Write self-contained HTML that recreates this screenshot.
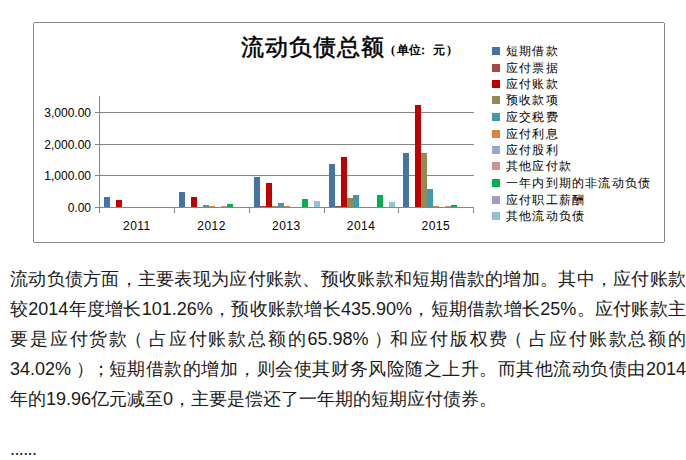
<!DOCTYPE html>
<html><head><meta charset="utf-8">
<style>
html,body{margin:0;padding:0;background:#fff;}
body{width:686px;height:460px;overflow:hidden;position:relative;font-family:"Liberation Sans",sans-serif;color:#000;}
svg{position:absolute;left:0;top:0;}
.t{position:absolute;left:241px;top:32px;font-family:"Liberation Serif",serif;font-size:23px;letter-spacing:1px;font-weight:400;-webkit-text-stroke:0.5px #000;line-height:32px;white-space:nowrap;}
.u{position:absolute;left:391px;top:42px;font-family:"Liberation Serif",serif;font-size:12px;font-weight:bold;line-height:16px;white-space:nowrap;}
.u span{display:inline-block;}
.yl{position:absolute;right:595px;font-size:12px;line-height:16px;white-space:nowrap;}
.xl{position:absolute;width:74.75px;top:218px;font-size:12px;letter-spacing:0.5px;line-height:16px;text-align:center;}
.lg{position:absolute;left:506px;font-size:12px;line-height:16px;letter-spacing:1.2px;white-space:nowrap;}
.p{position:absolute;left:10px;width:676px;font-size:18px;line-height:30px;color:#1a1a1a;}
.ln{display:block;height:30px;text-align:justify;text-align-last:justify;white-space:nowrap;}
.ln.last{text-align-last:left;}
.lp{position:relative;left:-4px;}
.rp{position:relative;left:4px;}
.sc{position:relative;left:2px;}
</style></head><body>
<svg width="686" height="250" viewBox="0 0 686 250">
<rect x="34" y="22" width="630" height="1" fill="#868686"/><rect x="34" y="242" width="630" height="1" fill="#868686"/><rect x="33" y="23" width="1" height="219" fill="#868686"/><rect x="664" y="23" width="1" height="219" fill="#868686"/>
<rect x="99" y="112" width="375" height="1" fill="#868686"/>
<rect x="99" y="144" width="375" height="1" fill="#868686"/>
<rect x="99" y="175" width="375" height="1" fill="#868686"/>
<rect x="104" y="197" width="6" height="10" fill="#4572A7"/>
<rect x="116" y="200" width="6" height="7" fill="#C00000"/>
<rect x="179" y="192" width="6" height="15" fill="#4572A7"/>
<rect x="191" y="197" width="6" height="10" fill="#C00000"/>
<rect x="203" y="205" width="6" height="2" fill="#4198AF"/>
<rect x="209" y="206" width="6" height="1" fill="#DB843D"/>
<rect x="221" y="206" width="6" height="1" fill="#D19392"/>
<rect x="227" y="204" width="6" height="3" fill="#00B050"/>
<rect x="254" y="177" width="6" height="30" fill="#4572A7"/>
<rect x="260" y="206" width="6" height="1" fill="#AA4643"/>
<rect x="266" y="183" width="6" height="24" fill="#C00000"/>
<rect x="272" y="206" width="6" height="1" fill="#918A55"/>
<rect x="278" y="203" width="6" height="4" fill="#4198AF"/>
<rect x="284" y="206" width="6" height="1" fill="#DB843D"/>
<rect x="302" y="199" width="6" height="8" fill="#00B050"/>
<rect x="314" y="201" width="6" height="6" fill="#91C3D5"/>
<rect x="329" y="164" width="6" height="43" fill="#4572A7"/>
<rect x="335" y="206" width="6" height="1" fill="#AA4643"/>
<rect x="341" y="157" width="6" height="50" fill="#C00000"/>
<rect x="347" y="198" width="6" height="9" fill="#918A55"/>
<rect x="353" y="195" width="6" height="12" fill="#4198AF"/>
<rect x="377" y="195" width="6" height="12" fill="#00B050"/>
<rect x="389" y="202" width="6" height="5" fill="#91C3D5"/>
<rect x="403" y="153" width="6" height="54" fill="#4572A7"/>
<rect x="415" y="105" width="6" height="102" fill="#C00000"/>
<rect x="421" y="153" width="6" height="54" fill="#918A55"/>
<rect x="427" y="189" width="6" height="18" fill="#4198AF"/>
<rect x="433" y="206" width="6" height="1" fill="#DB843D"/>
<rect x="445" y="206" width="6" height="1" fill="#D19392"/>
<rect x="451" y="205" width="6" height="2" fill="#00B050"/>
<rect x="99" y="207" width="375" height="1" fill="#868686"/>
<rect x="99" y="96" width="1" height="117" fill="#868686"/>
<rect x="95" y="112" width="4" height="1" fill="#868686"/>
<rect x="95" y="144" width="4" height="1" fill="#868686"/>
<rect x="95" y="175" width="4" height="1" fill="#868686"/>
<rect x="95" y="207" width="4" height="1" fill="#868686"/>
<rect x="174" y="207" width="1" height="6" fill="#868686"/>
<rect x="249" y="207" width="1" height="6" fill="#868686"/>
<rect x="324" y="207" width="1" height="6" fill="#868686"/>
<rect x="398" y="207" width="1" height="6" fill="#868686"/>
<rect x="473" y="207" width="1" height="6" fill="#868686"/>
<rect x="492" y="47" width="8" height="8" fill="#4572A7"/>
<rect x="492" y="64" width="8" height="8" fill="#AA4643"/>
<rect x="492" y="80" width="8" height="8" fill="#C00000"/>
<rect x="492" y="96" width="8" height="8" fill="#918A55"/>
<rect x="492" y="113" width="8" height="8" fill="#4198AF"/>
<rect x="492" y="130" width="8" height="8" fill="#DB843D"/>
<rect x="492" y="146" width="8" height="8" fill="#93A9CF"/>
<rect x="492" y="162" width="8" height="8" fill="#D19392"/>
<rect x="492" y="179" width="8" height="8" fill="#00B050"/>
<rect x="492" y="196" width="8" height="8" fill="#A99BBD"/>
<rect x="492" y="212" width="8" height="8" fill="#91C3D5"/>
</svg>
<div class="t">流动负债总额</div>
<div class="u"><span style="width:6px">(</span><span style="width:12px">单</span><span style="width:12px">位</span><span style="width:12px;position:relative;left:-4px">：</span><span style="width:12px">元</span><span style="width:6px;text-align:right">)</span></div>
<div class="yl" style="top:105px">3,000.00</div><div class="yl" style="top:137px">2,000.00</div><div class="yl" style="top:168px">1,000.00</div><div class="yl" style="top:200px">0.00</div>
<div class="xl" style="left:99.5px">2011</div><div class="xl" style="left:174.25px">2012</div><div class="xl" style="left:249.0px">2013</div><div class="xl" style="left:323.75px">2014</div><div class="xl" style="left:398.5px">2015</div>
<div class="lg" style="top:43px">短期借款</div><div class="lg" style="top:60px">应付票据</div><div class="lg" style="top:76px">应付账款</div><div class="lg" style="top:92px">预收款项</div><div class="lg" style="top:109px">应交税费</div><div class="lg" style="top:126px">应付利息</div><div class="lg" style="top:142px">应付股利</div><div class="lg" style="top:158px">其他应付款</div><div class="lg" style="top:175px">一年内到期的非流动负债</div><div class="lg" style="top:192px">应付职工薪酬</div><div class="lg" style="top:208px">其他流动负债</div>
<div class="p" style="top:264px">
<div class="ln">流动负债方面，主要表现为应付账款、预收账款和短期借款的增加。其中，应付账款</div>
<div class="ln">较2014年度增长101.26%，预收账款增长435.90%，短期借款增长25%。应付账款主</div>
<div class="ln">要是应付货款<span class="lp">（</span>占应付账款总额的65.98%<span class="rp">）</span>和应付版权费<span class="lp">（</span>占应付账款总额的</div>
<div class="ln">34.02%<span class="rp">）</span><span class="sc">；</span>短期借款的增加，则会使其财务风险随之上升。而其他流动负债由2014</div>
<div class="ln last">年的19.96亿元减至0，主要是偿还了一年期的短期应付债券。</div>
</div>
<div class="p" style="top:434px;letter-spacing:-0.6px">......</div>
</body></html>
